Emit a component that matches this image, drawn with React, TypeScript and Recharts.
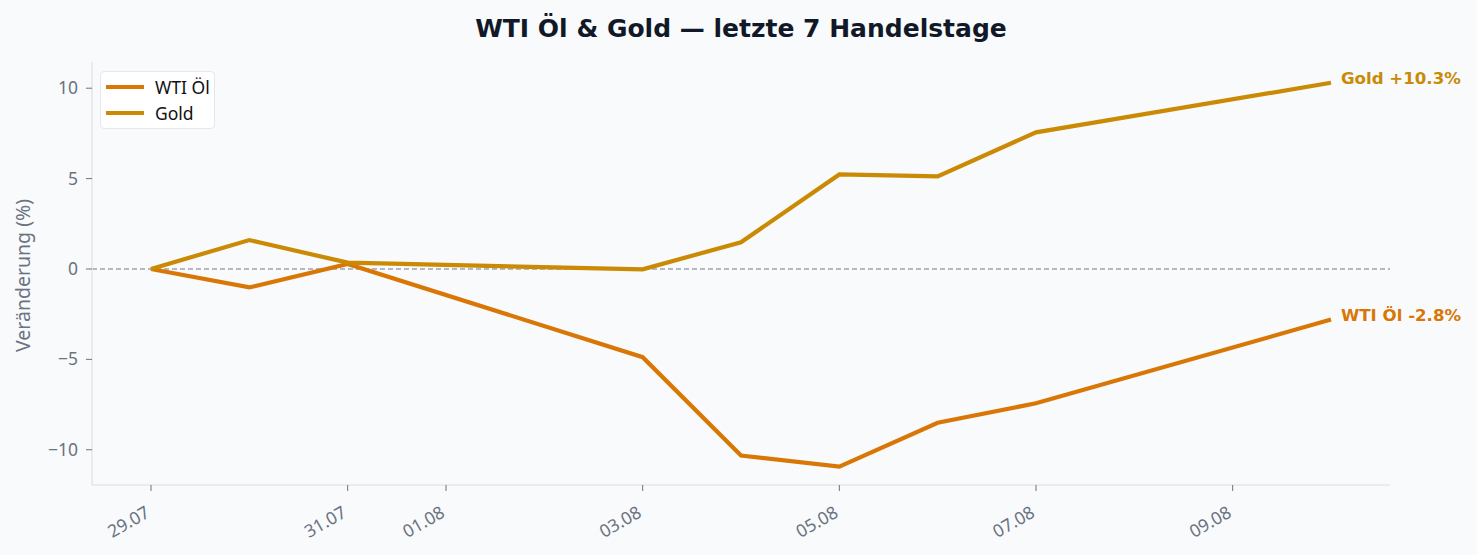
import { Line, LineChart, ReferenceLine, XAxis, YAxis } from 'recharts';

// day offset from 29.07
const days = [0, 1, 2, 5, 6, 7, 8, 9, 12];
const wti = [0, -1.02, 0.28, -4.88, -10.32, -10.93, -8.51, -7.43, -2.8];
const gold = [0, 1.6, 0.35, -0.02, 1.48, 5.23, 5.12, 7.56, 10.3];

const xTicks = [0, 2, 3, 5, 7, 9, 11];
const xTickLabels = ['29.07', '31.07', '01.08', '03.08', '05.08', '07.08', '09.08'];
const yTicks = [-10, -5, 0, 5, 10];

const WTI_COLOR = '#d97706';
const GOLD_COLOR = '#ca8a04';
const MUTED = '#6b7280';
const SPINE = '#e5e7eb';

const data = days.map((d, i) => ({ day: d, wti: wti[i], gold: gold[i] }));

function XTick(props: any) {
  const { x, y, payload } = props;
  const idx = xTicks.indexOf(payload.value);
  return (
    <g transform={`translate(${x},${y + 23})`}>
      <text
        transform="rotate(-30)"
        textAnchor="end"
        fill={MUTED}
        fontSize={17.5}
        fontFamily="'Noto Sans', sans-serif"
      >
        {xTickLabels[idx]}
      </text>
    </g>
  );
}

function YTick(props: any) {
  const { x, y, payload } = props;
  const v = payload.value as number;
  const txt = v < 0 ? `\u2212${Math.abs(v)}` : `${v}`;
  return (
    <text
      x={x - 6}
      y={y}
      dy={6}
      textAnchor="end"
      fill={MUTED}
      fontSize={17.5}
      fontFamily="'Noto Sans', sans-serif"
    >
      {txt}
    </text>
  );
}

function endLabel(text: string, color: string) {
  return (props: any) => {
    const { x, y, index } = props;
    if (index !== days.length - 1) return null;
    return (
      <text
        x={x + 10}
        y={y}
        dy={1}
        fill={color}
        fontSize={16.6}
        fontWeight="bold"
        fontFamily="'DejaVu Sans', sans-serif"
      >
        {text}
      </text>
    );
  };
}

function LegendBox() {
  const items = [
    { name: 'WTI Öl', color: WTI_COLOR },
    { name: 'Gold', color: GOLD_COLOR },
  ];
  return (
    <div
      style={{
        position: 'absolute',
        left: 100,
        top: 71,
        width: 115,
        height: 58,
        boxSizing: 'border-box',
        background: '#ffffff',
        border: '1.5px solid #e5e7eb',
        borderRadius: 4,
        padding: '2px 0 0 5px',
        fontFamily: "'Noto Sans', sans-serif",
        fontSize: 17.5,
        color: '#111111',
      }}
    >
      {items.map((it) => (
        <div key={it.name} style={{ display: 'flex', alignItems: 'center', height: 26 }}>
          <span style={{ display: 'inline-block', width: 38, height: 4, background: it.color, marginRight: 11 }} />
          <span>{it.name}</span>
        </div>
      ))}
    </div>
  );
}

export default function App() {
  return (
    <div style={{ position: 'fixed', left: 0, top: 0, width: 1477, height: 555, background: '#f8fafc' }}>
      <div
        style={{
          position: 'absolute',
          top: 14,
          left: 0,
          width: 1482,
          textAlign: 'center',
          fontFamily: "'DejaVu Sans', sans-serif",
          fontWeight: 'bold',
          fontSize: 25,
          color: '#111827',
        }}
      >
        WTI Öl &amp; Gold — letzte 7 Handelstage
      </div>
      <LineChart width={1477} height={555} data={data} margin={{ top: 62, right: 87, bottom: 40, left: 32 }}>
        <XAxis
          dataKey="day"
          type="number"
          height={30}
          domain={[-0.6, 12.6]}
          ticks={xTicks}
          tick={<XTick />}
          tickLine={{ stroke: MUTED }}
          tickSize={6}
          axisLine={{ stroke: SPINE, strokeWidth: 1.5 }}
          allowDataOverflow
        />
        <YAxis
          type="number"
          width={60}
          domain={[-11.95, 11.45]}
          ticks={yTicks}
          tick={<YTick />}
          tickLine={{ stroke: MUTED }}
          tickSize={6}
          axisLine={{ stroke: SPINE, strokeWidth: 1.5 }}
          allowDataOverflow
          label={{
            value: 'Veränderung (%)',
            angle: -90,
            position: 'insideLeft',
            offset: -9,
            dy: 2,
            style: { fill: MUTED, fontSize: 19.5, fontFamily: "'Noto Sans', sans-serif", textAnchor: 'middle' },
          }}
        />
        <ReferenceLine y={0} stroke="#9ca3af" strokeDasharray="5 3" strokeWidth={1.3} />
        <Line
          type="linear"
          dataKey="wti"
          name="WTI Öl"
          stroke={WTI_COLOR}
          strokeWidth={4.2}
          dot={false}
          activeDot={false}
          isAnimationActive={false}
          label={endLabel('WTI Öl -2.8%', WTI_COLOR)}
        />
        <Line
          type="linear"
          dataKey="gold"
          name="Gold"
          stroke={GOLD_COLOR}
          strokeWidth={4.2}
          dot={false}
          activeDot={false}
          isAnimationActive={false}
          label={endLabel('Gold +10.3%', GOLD_COLOR)}
        />
      </LineChart>
      <LegendBox />
    </div>
  );
}
